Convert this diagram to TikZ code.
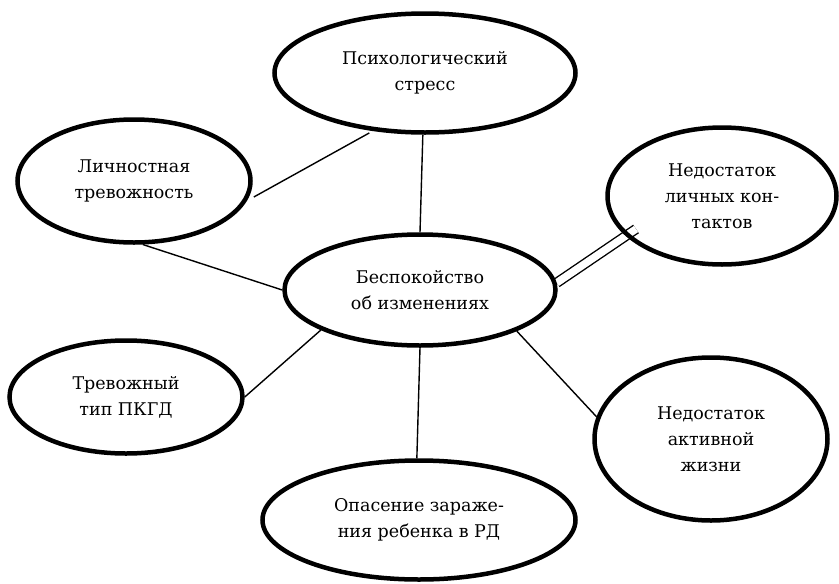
\documentclass[tikz,border=0pt]{standalone}
\usepackage{fontspec}
\setmainfont{DejaVu Serif}
\usepackage{tikz}
\usetikzlibrary{shapes,calc,backgrounds}

\begin{document}
\begin{tikzpicture}[x=1pt,y=-1pt,
    bubble/.style={ellipse,draw,line width=4.5pt,inner sep=0pt,align=center,
      font=\fontsize{17.5}{26}\selectfont},
    link/.style={line width=1.4pt}]
        \useasboundingbox (0,0) rectangle (839,584);
        \node[bubble,minimum width=301,minimum height=119] (psych) at (425,73) {Психологический\\стресс};
        \node[bubble,minimum width=233,minimum height=123] (lichn) at (134,181) {Личностная\\тревожность};
        \node[bubble,minimum width=229,minimum height=137] (contact) at (722,196) {Недостаток\\личных кон-\\тактов};
        \node[bubble,minimum width=271,minimum height=111] (center) at (420,290) {Беспокойство\\об изменениях};
        \node[bubble,minimum width=233,minimum height=113] (tipa) at (126,397) {Тревожный\\тип ПКГД};
        \node[bubble,minimum width=233,minimum height=163] (active) at (711,439) {Недостаток\\активной\\жизни};
        \node[bubble,minimum width=313,minimum height=119] (bottom) at (419,520) {Опасение зараже-\\ния ребенка в РД};
        \coordinate (dblend) at ($(contact.center)+(-86,33)$);
        \begin{scope}[on background layer]
          \fill[white] (0,0) rectangle (839,584);
          \draw[link] (psych.268) -- (center.north);
          \draw[link,shorten <=8pt,shorten >=4pt] (lichn.-10) -- (psych.228.5);
          \draw[link] (lichn.-82) -- (center.west);
          \draw[link,double,double distance=7.5pt] (center.3) -- (dblend);
          \draw[link] (center.202) -- (tipa.east);
          \draw[link] (center.south) -- (bottom.92);
          \draw[link] (center.-23) -- (active.169);
        \end{scope}
      \end{tikzpicture}
\end{document}
